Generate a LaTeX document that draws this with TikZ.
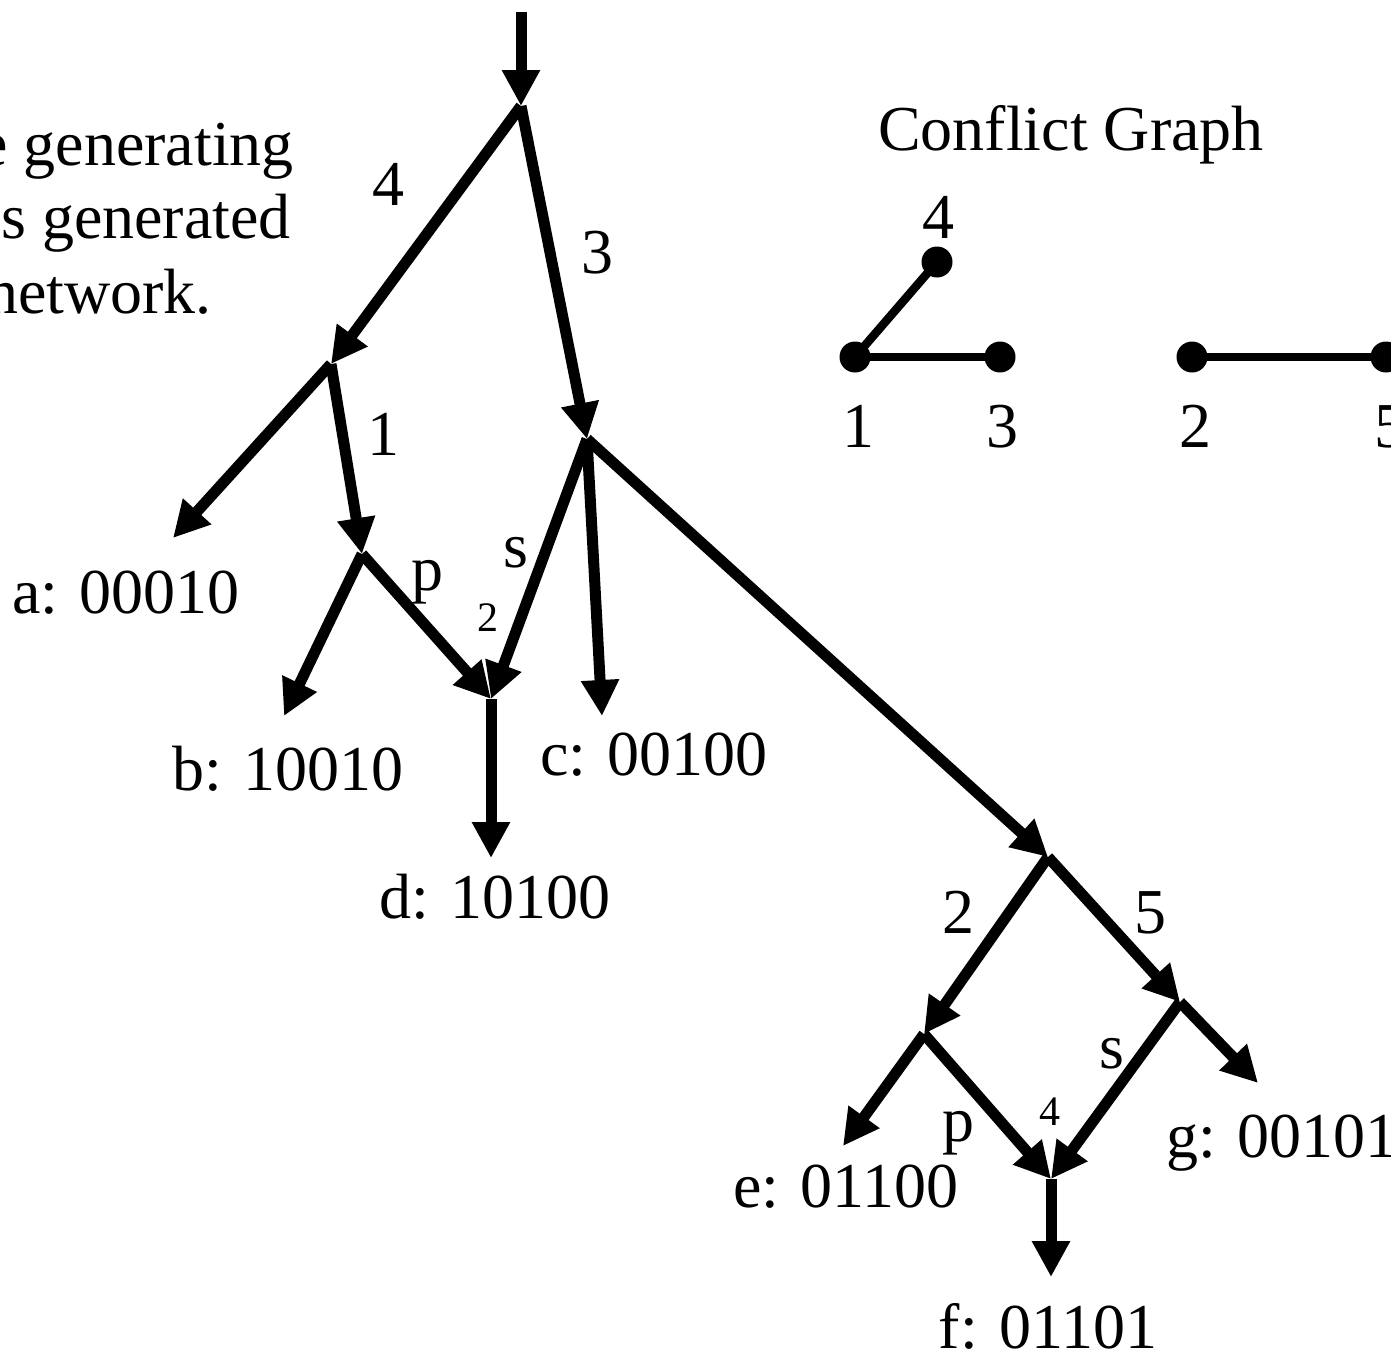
\documentclass[tikz,border=0pt]{standalone}
\usepackage{fontspec}
\setmainfont{Liberation Serif}
\usetikzlibrary{arrows.meta}
\begin{document}
\begin{tikzpicture}[x=1pt,y=-1pt,
  arr/.style={line width=11pt,-{Triangle[length=36pt,width=36pt]}},
  big/.style={font=\fontsize{64}{70}\selectfont, inner sep=0pt, anchor=base},
  small/.style={font=\fontsize{42}{46}\selectfont, inner sep=0pt, anchor=base},
  dot/.style={circle, fill=black, inner sep=0pt, minimum size=31pt},
  cedge/.style={line width=8.5pt}]
\useasboundingbox (0,0) rectangle (1391,1354);
% junctions
\coordinate (T0) at (521,12);
\coordinate (R) at (521,106);
\coordinate (A) at (331,364);
\coordinate (B) at (587,439);
\coordinate (P1) at (362,554);
\coordinate (D) at (491,699);
\coordinate (C) at (1048,857);
\coordinate (E) at (924,1034);
\coordinate (G) at (1180,1002);
\coordinate (F) at (1051,1179);
% leaf tips
\coordinate (ta) at (173,538);
\coordinate (tb) at (284,716);
\coordinate (tc) at (602,716);
\coordinate (td) at (491,858);
\coordinate (te) at (843,1146);
\coordinate (tf) at (1051,1277);
\coordinate (tg) at (1258,1083);
% arrows
\draw[arr] (T0) -- (R);
\draw[arr] (R) -- (A);
\draw[arr] (R) -- (B);
\draw[arr] (A) -- (ta);
\draw[arr] (A) -- (P1);
\draw[arr] (P1) -- (tb);
\draw[arr] (P1) -- (D);
\draw[arr] (B) -- (D);
\draw[arr] (B) -- (tc);
\draw[arr] (B) -- (C);
\draw[arr] (D) -- (td);
\draw[arr] (C) -- (E);
\draw[arr] (C) -- (G);
\draw[arr] (E) -- (te);
\draw[arr] (E) -- (F);
\draw[arr] (G) -- (F);
\draw[arr] (G) -- (tg);
\draw[arr] (F) -- (tf);
% edge labels
\node[big] (l4) at (388,205) {4};
\node[big] (l3) at (597,273) {3};
\node[big] (l1) at (383,455) {1};
\node[big] (lp1) at (427,590) {p};
\node[big] (ls1) at (516,567) {s};
\node[small] (n2) at (488,631) {2};
\node[big] (l2) at (958,933) {2};
\node[big] (l5) at (1150,933) {5};
\node[big] (ls2) at (1112,1068) {s};
\node[big] (lp2) at (958,1141) {p};
\node[small] (n4) at (1050,1125) {4};
% leaf labels
\node[big] (la) at (126,613) {a: 00010};
\node[big] (lb) at (288,790) {b: 10010};
\node[big] (lc) at (654,775) {c: 00100};
\node[big] (ld) at (495,918) {d: 10100};
\node[big] (le) at (846,1207) {e: 01100};
\node[big] (lf) at (1048,1348) {f: 01101};
\node[big, anchor=base west] (lg) at (1166,1157) {g: 00101};
% left text
\node[big, anchor=base east] (t1) at (294,165) {e generating};
\node[big, anchor=base east] (t2) at (291,238) {es generated};
\node[big, anchor=base east] (t3) at (212,313) {network.};
% conflict graph
\node[big] (cg) at (1071,150) {Conflict Graph};
\node[dot] (c4) at (937,262) {};
\node[dot] (c1) at (855,357) {};
\node[dot] (c3) at (1000,357) {};
\node[dot] (c2) at (1192,357) {};
\node[dot] (c5) at (1386,357) {};
\draw[cedge] (c1.center) -- (c4.center);
\draw[cedge] (c1.center) -- (c3.center);
\draw[cedge] (c2.center) -- (c5.center);
\node[big] (k4) at (938,238) {4};
\node[big] (k1) at (858,447) {1};
\node[big] (k3) at (1002,447) {3};
\node[big] (k2) at (1195,447) {2};
\node[big] (k5) at (1390,447) {5};
\end{tikzpicture}
\end{document}
